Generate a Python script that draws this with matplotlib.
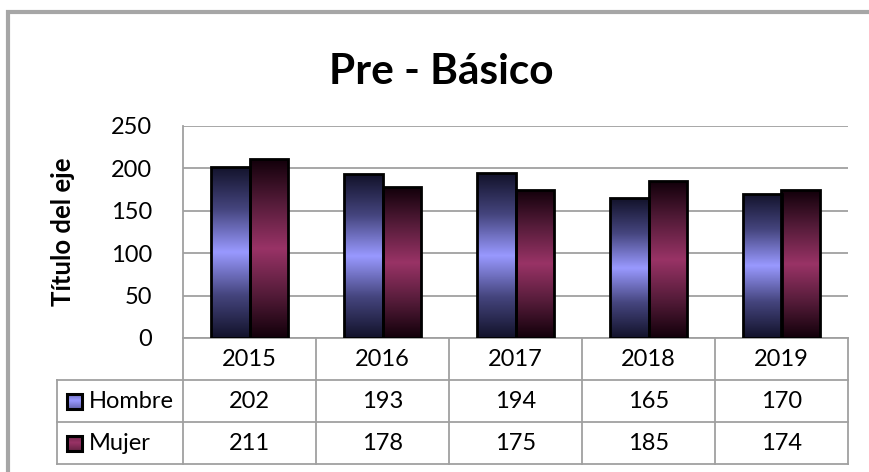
import numpy as np
import matplotlib
matplotlib.use("Agg")
import matplotlib.pyplot as plt
from matplotlib.colors import LinearSegmentedColormap
from matplotlib.patches import Rectangle
import matplotlib.transforms as mtransforms

# ---- data ----
years = ["2015", "2016", "2017", "2018", "2019"]
series_names = ["Hombre", "Mujer"]
hombre = [202, 193, 194, 165, 170]
mujer = [211, 178, 175, 185, 174]
title = "Pre - Básico"
ylabel = "Título del eje"
yticks = [0, 50, 100, 150, 200, 250]

plt.rcParams['font.family'] = ['Lato', 'DejaVu Sans']

W, H = 869, 472
fig = plt.figure(figsize=(W / 100, H / 100), dpi=100)

def fx(px):
    return px / W

def fy(py):
    return 1 - py / H

# outer frame (gray, left and top visible)
fig.patches.append(Rectangle((fx(8), fy(480)), fx(900), fy(12) - fy(480),
                             transform=fig.transFigure, fill=False,
                             edgecolor="#A6A6A6", linewidth=3))

ax_l, ax_r, ax_t, ax_b = 183, 848, 126, 338
ax = fig.add_axes([fx(ax_l), fy(ax_b), fx(ax_r - ax_l), fy(ax_t) - fy(ax_b)])
ax.set_xlim(-0.5, len(years) - 0.5)
ax.set_ylim(0, 250)
ax.set_yticks(yticks)
ax.set_xticks([])
ax.tick_params(axis='y', length=0, pad=22, labelsize=17)
for s in ["top", "right", "bottom"]:
    ax.spines[s].set_visible(False)
ax.spines["left"].set_color("#A0A0A0")
ax.spines["left"].set_linewidth(1.3)
ax.yaxis.grid(True, color="#A0A0A0", linewidth=1.3)
ax.set_axisbelow(True)
ax.set_ylabel(ylabel, fontsize=18.5, fontweight='bold')
ax.yaxis.set_label_coords((63 - ax_l) / (ax_r - ax_l), 0.5)
ax.yaxis.label.set_va('center')

cmaps = [
    LinearSegmentedColormap.from_list("h", ["#12122a", "#45457e", "#9999FF", "#45457e", "#12122a"]),
    LinearSegmentedColormap.from_list("m", ["#12000a", "#561c3a", "#993366", "#561c3a", "#12000a"]),
]
key_cmaps = [
    LinearSegmentedColormap.from_list("hk", ["#6a6ab8", "#9999FF", "#6a6ab8"]),
    LinearSegmentedColormap.from_list("mk", ["#6a2446", "#993366", "#6a2446"]),
]

x = np.arange(len(years))
bw = 0.29
grad = np.linspace(0, 1, 256).reshape(-1, 1)
for k, vals in enumerate([hombre, mujer]):
    offs = (k - 0.5) * bw
    bars = ax.bar(x + offs, vals, width=bw, color="none", edgecolor="black",
                  linewidth=2, zorder=3)
    for b in bars:
        x0, y0 = b.get_x(), b.get_y()
        w, h = b.get_width(), b.get_height()
        im = ax.imshow(grad, extent=[x0, x0 + w, y0, y0 + h], aspect='auto',
                       cmap=cmaps[k], origin='lower', zorder=2.5,
                       interpolation='bilinear')
        im.set_clip_path(b)
ax.set_xlim(-0.5, len(years) - 0.5)
ax.set_ylim(0, 250)

# ---- data table below axes ----
trans = mtransforms.blended_transform_factory(ax.transData, ax.transAxes)
rh = 42 / (ax_b - ax_t)
cw = (ax_r - ax_l) / len(years)
left_x = -0.5 - (ax_l - 57) / cw
lc = "#A0A0A0"
lw = 1.3
ax.plot([-0.5, len(years) - 0.5], [0, 0], transform=trans, color=lc, lw=lw, clip_on=False)
for r in [1, 2, 3]:
    ax.plot([left_x, len(years) - 0.5], [-r * rh, -r * rh], transform=trans, color=lc, lw=lw, clip_on=False)
for i in range(len(years) + 1):
    ax.plot([i - 0.5, i - 0.5], [0, -3 * rh], transform=trans, color=lc, lw=lw, clip_on=False)
ax.plot([left_x, left_x], [-rh, -3 * rh], transform=trans, color=lc, lw=lw, clip_on=False)

for i, yr in enumerate(years):
    ax.text(i, -0.5 * rh, yr, transform=trans, ha='center', va='center', fontsize=17)
for r, (name, vals) in enumerate(zip(series_names, [hombre, mujer])):
    yc = -(1.5 + r) * rh
    for i, v in enumerate(vals):
        ax.text(i, yc, str(v), transform=trans, ha='center', va='center', fontsize=17)
    # legend key with gradient
    kx0 = left_x + 10 / cw
    kw = 15 / cw
    kh = 15 / (ax_b - ax_t)
    key = Rectangle((kx0, yc - kh / 2), kw, kh, transform=trans, facecolor="none",
                    edgecolor="black", linewidth=2.2, clip_on=False, zorder=4)
    ax.add_patch(key)
    ax.imshow(grad, extent=[kx0, kx0 + kw, yc - kh / 2, yc + kh / 2], aspect='auto',
              cmap=key_cmaps[r], origin='lower', zorder=3.5,
              interpolation='bilinear', transform=trans, clip_on=False)
    ax.text(kx0 + kw + 7 / cw, yc, name, transform=trans, ha='left', va='center', fontsize=17)

ax.set_xlim(-0.5, len(years) - 0.5)
ax.set_ylim(0, 250)

fig.text(fx(441), fy(72), title, ha='center', va='center', fontsize=30.5, fontweight='bold')

fig.savefig("out.png", dpi=100)
